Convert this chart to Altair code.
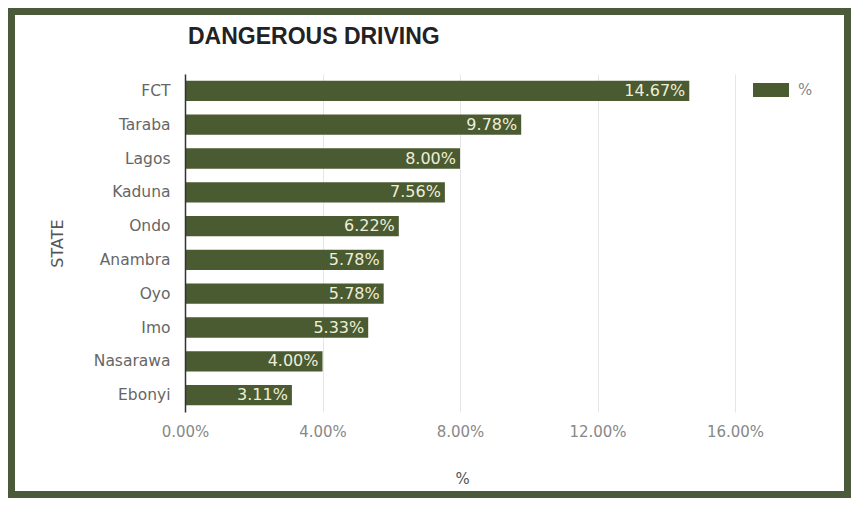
import altair as alt
import pandas as pd

states = ["FCT", "Taraba", "Lagos", "Kaduna", "Ondo", "Anambra", "Oyo", "Imo", "Nasarawa", "Ebonyi"]
values = [14.67, 9.78, 8.00, 7.56, 6.22, 5.78, 5.78, 5.33, 4.00, 3.11]
series = ["%"] * len(states)
x_ticks = [0, 4, 8, 12, 16]

GREEN = "#4a5a31"
FRAME = "#4b5a3b"
FONT = "DejaVu Sans"
TFONT = "Liberation Sans"

df = pd.DataFrame({"state": states, "value": values, "series": series})

base = alt.Chart(df).encode(
    y=alt.Y(
        "state:N",
        sort=states,
        scale=alt.Scale(paddingInner=0.4, paddingOuter=0.2),
        axis=alt.Axis(
            title="STATE",
            ticks=False,
            labelPadding=15,
            labelFontSize=15.5,
            labelColor="#666666",
            labelFont=FONT,
            domainColor="#333333",
            domainWidth=1.5,
            titleFontSize=16,
            titleFontWeight="normal",
            titleColor="#555555",
            titleFont=FONT,
            titleAngle=-90,
            titleX=-128,
            titleY=169,
            titleAlign="center",
            titleBaseline="middle",
            zindex=1,
        ),
    )
)

bars = base.mark_bar(color=GREEN).encode(
    x=alt.X(
        "value:Q",
        scale=alt.Scale(domain=[0, 16], nice=False),
        axis=alt.Axis(
            values=x_ticks,
            title="%",
            ticks=False,
            domain=False,
            grid=True,
            gridColor="#e6e6e6",
            labelFlush=False,
            labelPadding=12,
            labelFontSize=15,
            labelColor="#888888",
            labelFont=FONT,
            labelExpr="format(datum.value, '.2f') + '%'",
            titleFontSize=15,
            titleFontWeight="normal",
            titleColor="#555555",
            titleFont=FONT,
            titleX=277,
            titleY=66,
            titleBaseline="middle",
        ),
    ),
    color=alt.Color(
        "series:N",
        scale=alt.Scale(range=[GREEN]),
        legend=alt.Legend(
            title=None,
            orient="none",
            legendX=568,
            legendY=-2,
            symbolType="M-1,-0.39H1V0.39H-1Z",
            symbolSize=1296,
            symbolStrokeWidth=0,
            labelFontSize=15,
            labelColor="#888888",
            labelFont=FONT,
            labelOffset=9,
            padding=0,
        ),
    ),
)

labels = base.mark_text(
    align="right", baseline="middle", dx=-4, color="#eeeed8", fontSize=16, font=FONT
).transform_calculate(
    label="format(datum.value, '.2f') + '%'"
).encode(
    x=alt.X("value:Q"),
    text="label:N",
)

frame = alt.Chart(alt.Data(values=[{}])).mark_rect(
    filled=False, stroke=FRAME, strokeWidth=7
).encode(
    x=alt.value(-173.5),
    x2=alt.value(662.5),
    y=alt.value(-62.5),
    y2=alt.value(420.5),
)

chart = alt.layer(bars, labels, frame).properties(
    width=550,
    height=338,
    autosize=alt.AutoSizeParams(type="none"),
    padding={"left": 177, "top": 66, "right": 116, "bottom": 86},
    background="white",
    title=alt.TitleParams(
        "DANGEROUS DRIVING",
        anchor="start",
        frame="group",
        offset=27,
        dy=68,
        dx=3,
        fontSize=23,
        fontWeight="bold",
        color="#222222",
        font=TFONT,
    ),
).configure_view(stroke=None)

chart.save("out.html", embed_options={"renderer": "svg", "actions": False})
